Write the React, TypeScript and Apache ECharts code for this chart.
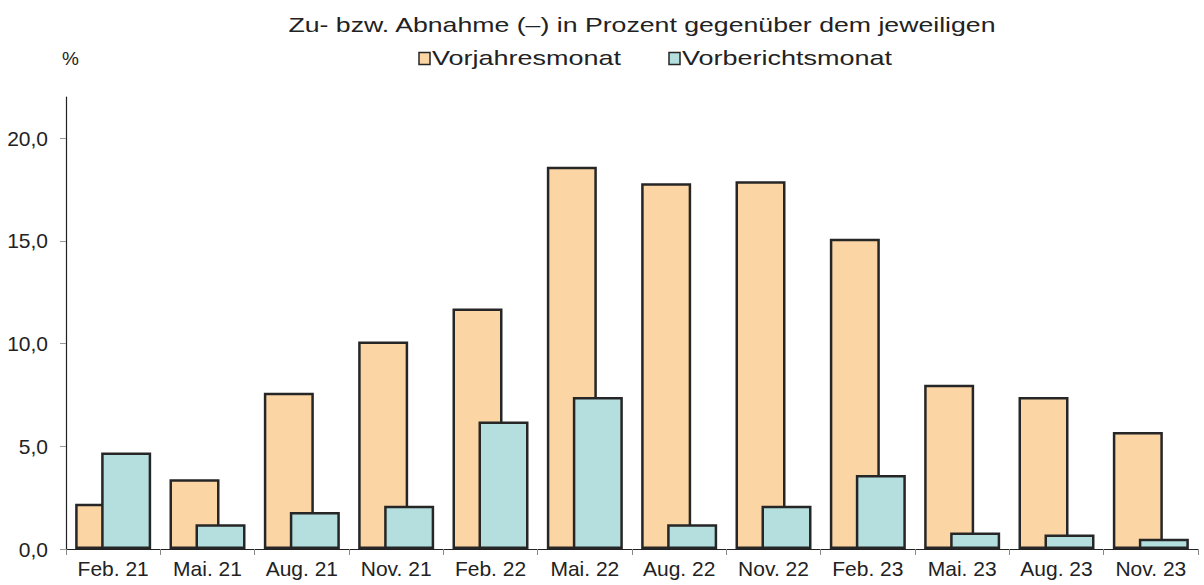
import React, { useEffect, useRef } from "react";
import * as echarts from "echarts";

const categories = ["Feb. 21", "Mai. 21", "Aug. 21", "Nov. 21", "Feb. 22", "Mai. 22", "Aug. 22", "Nov. 22", "Feb. 23", "Mai. 23", "Aug. 23", "Nov. 23"];
const vorjahresmonat = [2.2, 3.4, 7.6, 10.1, 11.7, 18.6, 17.8, 17.9, 15.1, 8.0, 7.4, 5.7];
const vorberichtsmonat = [4.7, 1.2, 1.8, 2.1, 6.2, 7.4, 1.2, 2.1, 3.6, 0.8, 0.7, 0.5];
const seriesNames = ["Vorjahresmonat", "Vorberichtsmonat"];
const seriesColors = ["#fcd5a4", "#b5dede"];
const yTicks = [0, 5, 10, 15, 20];
const titleText = "Zu- bzw. Abnahme (–) in Prozent gegenüber dem jeweiligen";
const unitText = "%";

const FONT = "'Liberation Sans', Arial, sans-serif";
const BORDER = "#262626";

export default function App() {
  const ref = useRef<HTMLDivElement>(null);
  useEffect(() => {
    if (!ref.current) return;
    const chart = echarts.init(ref.current, null, { renderer: "svg" });
    const legendX = [419, 669];
    chart.setOption({
      animation: false,
      backgroundColor: "#ffffff",
      textStyle: { fontFamily: FONT },
      graphic: [
        {
          type: "text",
          x: 642,
          y: 35,
          scaleX: 1.27,
          style: {
            text: titleText,
            font: `21px ${FONT}`,
            fill: "#222",
            align: "center",
            verticalAlign: "bottom",
          },
        },
        {
          type: "text",
          x: 62,
          y: 68,
          style: { text: unitText, font: `19px ${FONT}`, fill: "#222", verticalAlign: "bottom" },
        },
        ...seriesNames.flatMap((name, i) => [
          {
            type: "rect",
            shape: { x: legendX[i], y: 52.5, width: 11, height: 12 },
            style: { fill: seriesColors[i], stroke: BORDER, lineWidth: 1.5 },
          },
          {
            type: "text",
            x: legendX[i] + 13,
            y: 68,
            scaleX: 1.35,
            style: { text: name, font: `20px ${FONT}`, fill: "#222", verticalAlign: "bottom" },
          },
        ]),
      ],
      grid: { left: 66, right: 6, top: 97, bottom: 36, containLabel: false },
      xAxis: {
        type: "category",
        data: categories,
        axisLine: { lineStyle: { color: "#222", width: 1.2 } },
        axisTick: { show: true, length: 6, lineStyle: { color: "#888" } },
        axisLabel: { fontFamily: FONT, fontSize: 21, color: "#222", margin: 9 },
      },
      yAxis: {
        type: "value",
        min: 0,
        max: 22,
        interval: 5,
        splitLine: { show: false },
        axisLine: { show: true, lineStyle: { color: "#222", width: 1.2 } },
        axisTick: { show: true, length: 6, lineStyle: { color: "#999" }, customValues: yTicks },
        axisLabel: {
          fontFamily: FONT,
          fontSize: 21,
          color: "#222",
          margin: 18,
          customValues: yTicks,
          formatter: (v: number) => v.toFixed(1).replace(".", ","),
        },
      },
      series: [
        {
          name: seriesNames[0],
          type: "bar",
          data: vorjahresmonat,
          barWidth: 50,
          barGap: "-48%",
          itemStyle: { color: seriesColors[0], borderColor: BORDER, borderWidth: 2.5 },
          z: 2,
        },
        {
          name: seriesNames[1],
          type: "bar",
          data: vorberichtsmonat,
          barWidth: 50,
          itemStyle: { color: seriesColors[1], borderColor: BORDER, borderWidth: 2.5 },
          z: 3,
        },
      ],
    });
    return () => chart.dispose();
  }, []);
  return <div ref={ref} style={{ width: 1204, height: 585, position: "absolute", left: 0, top: 0 }} />;
}
